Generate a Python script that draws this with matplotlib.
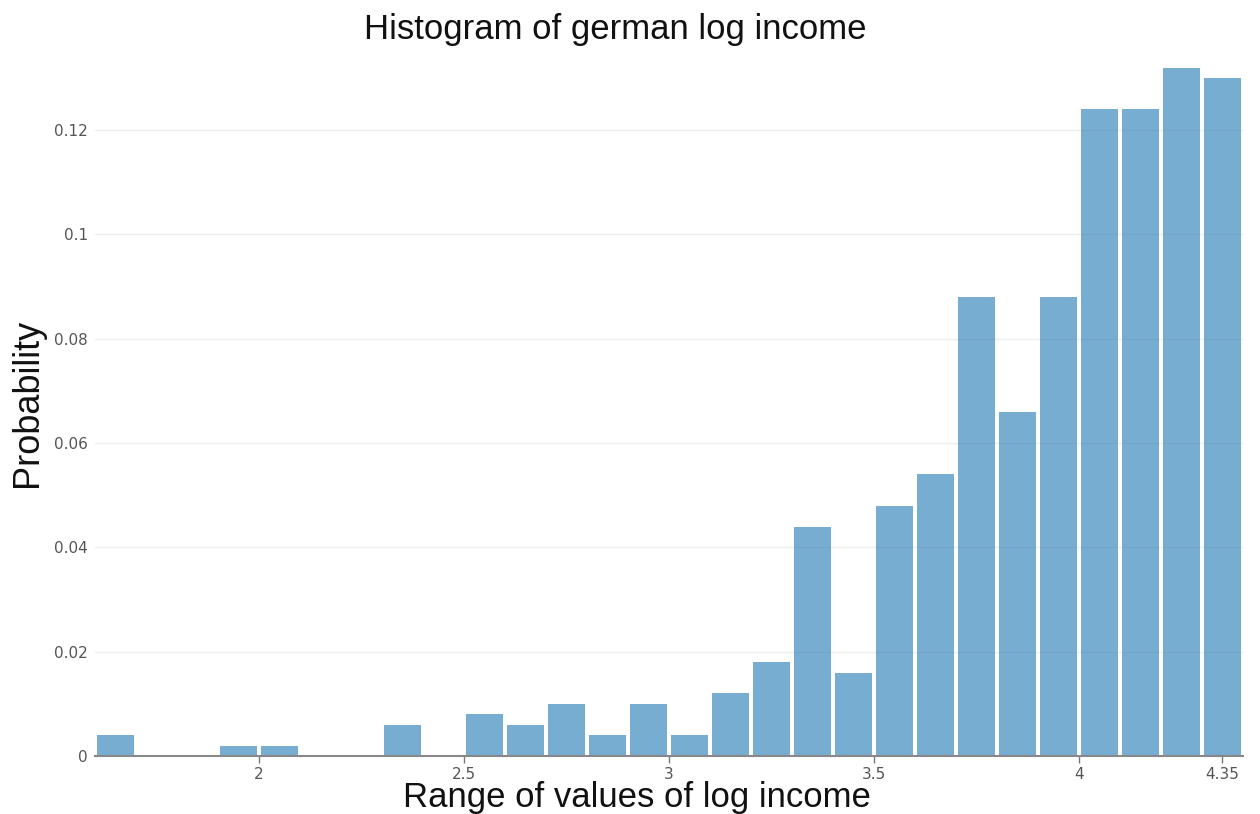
import matplotlib
matplotlib.use("Agg")
import matplotlib.pyplot as plt
import numpy as np

plt.rcParams["font.family"] = ["DejaVu Sans"]

bin_edges_start = [1.6, 1.7, 1.8, 1.9, 2.0, 2.1, 2.2, 2.3, 2.4, 2.5, 2.6, 2.7, 2.8, 2.9,
                   3.0, 3.1, 3.2, 3.3, 3.4, 3.5, 3.6, 3.7, 3.8, 3.9, 4.0, 4.1, 4.2, 4.3]
probabilities = [0.004, 0, 0, 0.002, 0.002, 0, 0, 0.006, 0, 0.008, 0.006, 0.010, 0.004, 0.010,
                 0.004, 0.012, 0.018, 0.044, 0.016, 0.048, 0.054, 0.088, 0.066, 0.088,
                 0.124, 0.124, 0.132, 0.130]
bin_width = 0.1
x_ticks = [2, 2.5, 3, 3.5, 4, 4.35]
x_tick_labels = ["2", "2.5", "3", "3.5", "4", "4.35"]
y_ticks = [0, 0.02, 0.04, 0.06, 0.08, 0.1, 0.12]
y_tick_labels = ["0", "0.02", "0.04", "0.06", "0.08", "0.1", "0.12"]

fig = plt.figure(figsize=(12.6, 8.14), dpi=100)
ax = fig.add_axes([95/1260, 58/814, (1243-95)/1260, (756-31)/814])

centers = np.array(bin_edges_start) + bin_width / 2
ax.bar(centers, probabilities, width=bin_width * 0.92, color="#1f77b4", alpha=0.6,
       linewidth=0, zorder=3)

ax.set_xlim(1.6, 4.4)
ax.set_ylim(0, 0.139)
ax.set_xticks(x_ticks)
ax.set_xticklabels(x_tick_labels)
ax.set_yticks(y_ticks)
ax.set_yticklabels(y_tick_labels)
ax.tick_params(axis="x", length=5, width=1, color="#777777", labelsize=11,
               labelcolor="#555555", pad=3, labelfontfamily="DejaVu Sans")
ax.tick_params(axis="y", length=0, labelsize=11, labelcolor="#555555", pad=5,
               labelfontfamily="DejaVu Sans")

ax.grid(axis="y", color="#eeeeee", linewidth=1, zorder=0)
ax.grid(axis="x", visible=False)
for s in ["top", "right", "left"]:
    ax.spines[s].set_visible(False)
ax.spines["bottom"].set_color("#888888")
ax.spines["bottom"].set_linewidth(1.5)
ax.spines["bottom"].set_zorder(4)

fig.text(615/1260, 1 - 29/814, "Histogram of german log income", ha="center", va="center",
         fontsize=25, family="Liberation Sans", color="#111111")
fig.text(28/1260, 1 - 403/814, "Probability", ha="center", va="center", rotation=90,
         fontsize=26, family="Liberation Sans", color="#111111")
fig.text(637/1260, 1 - 797/814, "Range of values of log income", ha="center", va="center",
         fontsize=25, family="Liberation Sans", color="#111111")

fig.savefig("out.png", dpi=100, facecolor="white")
